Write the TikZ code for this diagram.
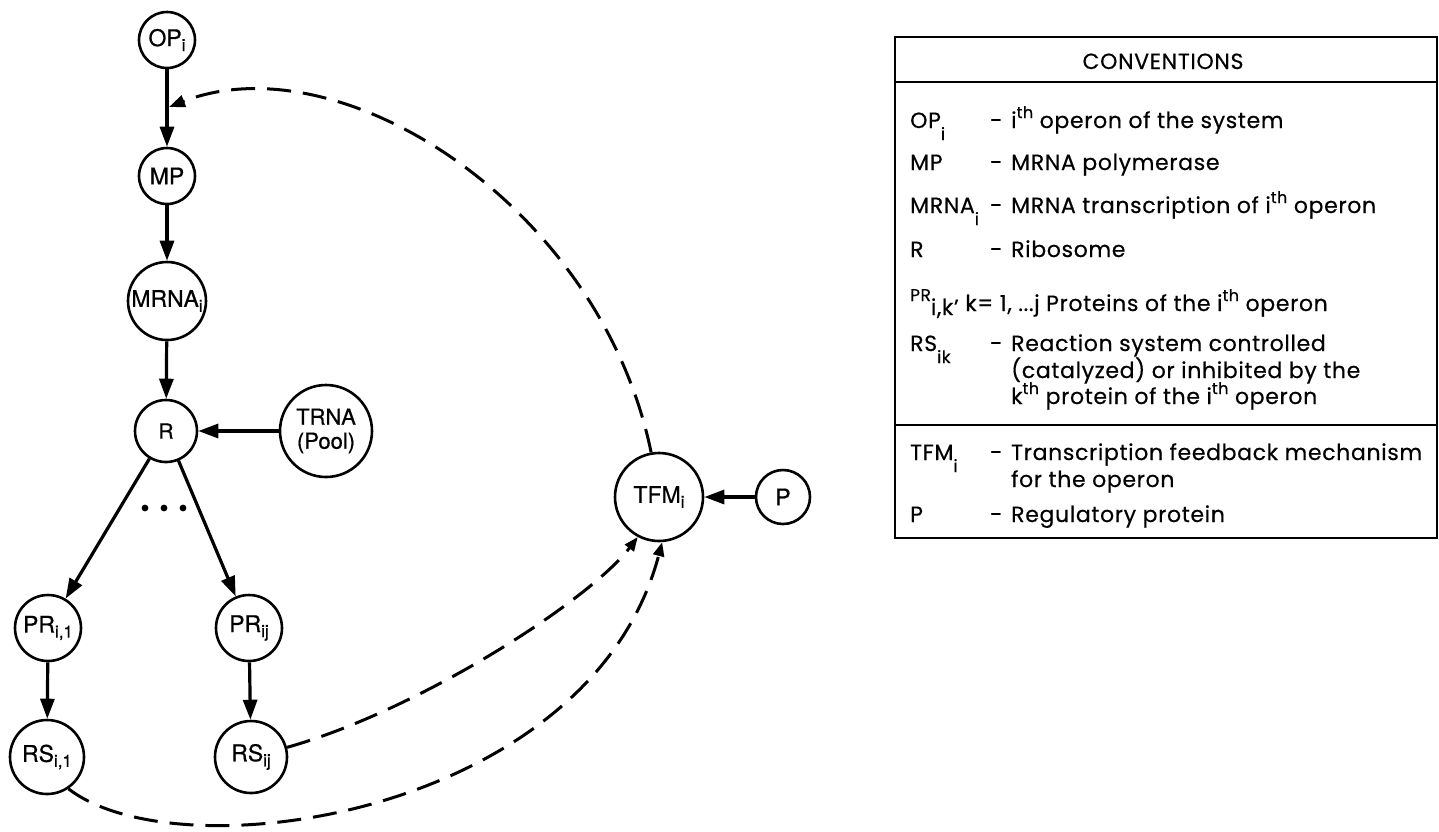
\documentclass[tikz,border=0pt]{standalone}
\usepackage{fontspec}
\setmainfont[FakeBold=0.6]{TeX Gyre Heros}
\newfontfamily\convfont[LetterSpace=3,FakeBold=0.4]{Poppins}
\usetikzlibrary{arrows.meta}

% lowered index inside the circles
\newcommand\nsub[1]{\raisebox{-5pt}{\fontsize{17}{17}\selectfont #1}}
% dropped index and raised ordinal in the conventions table
\newcommand\tsub[1]{\raisebox{-12pt}{\fontsize{17}{17}\selectfont #1}}
\newcommand\tsup[1]{\raisebox{10pt}{\fontsize{16}{16}\selectfont #1}}

\begin{document}
\begin{tikzpicture}[x=1pt,y=-1pt,
  state/.style={circle,draw,line width=2.6pt,inner sep=0pt,minimum size=#1,
    font=\fontsize{23}{25}\selectfont},
  flow/.style={line width=3.2pt,-{Triangle[length=20pt,width=14pt]}},
  fback/.style={line width=3pt,dash pattern=on 24pt off 12pt,
    -{Triangle[length=16pt,width=12pt]}},
  tbl/.style={anchor=base west,inner sep=0pt,
    font=\convfont\fontsize{22}{22}\selectfont},
  frame/.style={line width=2pt}]
\useasboundingbox (0,0) rectangle (1439,831);

% ---- network of the operon ----
\node[state=56pt] (op)   at (167,40)  {OP\nsub{i}};
\node[state=56pt] (mp)   at (167,176) {MP};
\node[state=78pt] (mrna) at (167,301) {MRNA\nsub{i}};
\node[state=62pt,font=\fontsize{21}{21}\selectfont] (r) at (166,431) {R};
\node[state=92pt,align=center,font=\fontsize{22}{24}\selectfont] (trna) at (326,431) {TRNA\\(Pool)};
\node[state=66pt] (pr1)  at (48,628)  {PR\nsub{i,1}};
\node[state=66pt] (prj)  at (249,628) {PR\nsub{ij}};
\node[state=74pt] (rs1)  at (47,757)  {RS\nsub{i,1}};
\node[state=72pt] (rsj)  at (251,757) {RS\nsub{ij}};
\node[state=88pt] (tfm)  at (659,497) {TFM\nsub{i}};
\node[state=54pt] (p)    at (783,497) {P};

\foreach \dx in {145,164,183} \fill (\dx,508) circle (3.4pt);

\draw[flow] (op) -- (mp);
\draw[flow] (mp) -- (mrna);
\draw[flow] (mrna) -- (r);
\draw[flow] (trna) -- (r);
\draw[flow] (r) -- (pr1);
\draw[flow] (r) -- (prj);
\draw[flow] (pr1) -- (rs1);
\draw[flow] (prj) -- (rsj);
\draw[flow] (p) -- (tfm);

% feedback paths
\coordinate (fb) at (169,107);
\draw[fback] (tfm.100) .. controls (600,205) and (340,40) .. (fb);
\draw[fback,-{Triangle[length=14pt,width=11pt]}] (rsj.15) .. controls (420,710) and (590,600) .. (tfm.242);
\draw[fback,-{Triangle[length=14pt,width=11pt]}] (rs1.304) .. controls (180,875) and (590,815) .. (tfm.274);

% ---- conventions table ----
\draw[frame] (895,37) rectangle (1437,538);
\draw[frame] (895,82) -- (1437,82);
\draw[frame] (895,425) -- (1437,425);
\node[tbl,anchor=base] (hdr) at (1163,69) {CONVENTIONS};

\node[tbl] (k1) at (910,128) {OP\tsub{i}};
\node[tbl] (d1) at (990,128) {-};
\node[tbl] (v1) at (1011,128) {i\tsup{th} operon of the system};

\node[tbl] (k2) at (910,170) {MP};
\node[tbl] (d2) at (990,170) {-};
\node[tbl] (v2) at (1011,170) {MRNA polymerase};

\node[tbl] (k3) at (910,213) {MRNA\tsub{i}};
\node[tbl] (d3) at (990,213) {-};
\node[tbl] (v3) at (1011,213) {MRNA transcription of i\tsup{th} operon};

\node[tbl] (k4) at (910,257) {R};
\node[tbl] (d4) at (990,257) {-};
\node[tbl] (v4) at (1011,257) {Ribosome};

\node[tbl] (k5) at (910,311) {\raisebox{10pt}{\fontsize{17}{17}\selectfont PR}\raisebox{-4pt}{i,k’}\ k= 1, ...j Proteins of the i\tsup{th} operon};

\node[tbl] (k6) at (910,351) {RS\tsub{ik}};
\node[tbl] (d6) at (990,351) {-};
\node[tbl] (v6) at (1011,351) {Reaction system controlled};
\node[tbl] (v6b) at (1011,378) {(catalyzed) or inhibited by the};
\node[tbl] (v6c) at (1011,404) {k\tsup{th} protein of the i\tsup{th} operon};

\node[tbl] (k7) at (910,460) {TFM\tsub{i}};
\node[tbl] (d7) at (990,460) {-};
\node[tbl] (v7) at (1011,460) {Transcription feedback mechanism};
\node[tbl] (v7b) at (1011,487) {for the operon};

\node[tbl] (k8) at (910,522) {P};
\node[tbl] (d8) at (990,522) {-};
\node[tbl] (v8) at (1011,522) {Regulatory protein};
\end{tikzpicture}
\end{document}
